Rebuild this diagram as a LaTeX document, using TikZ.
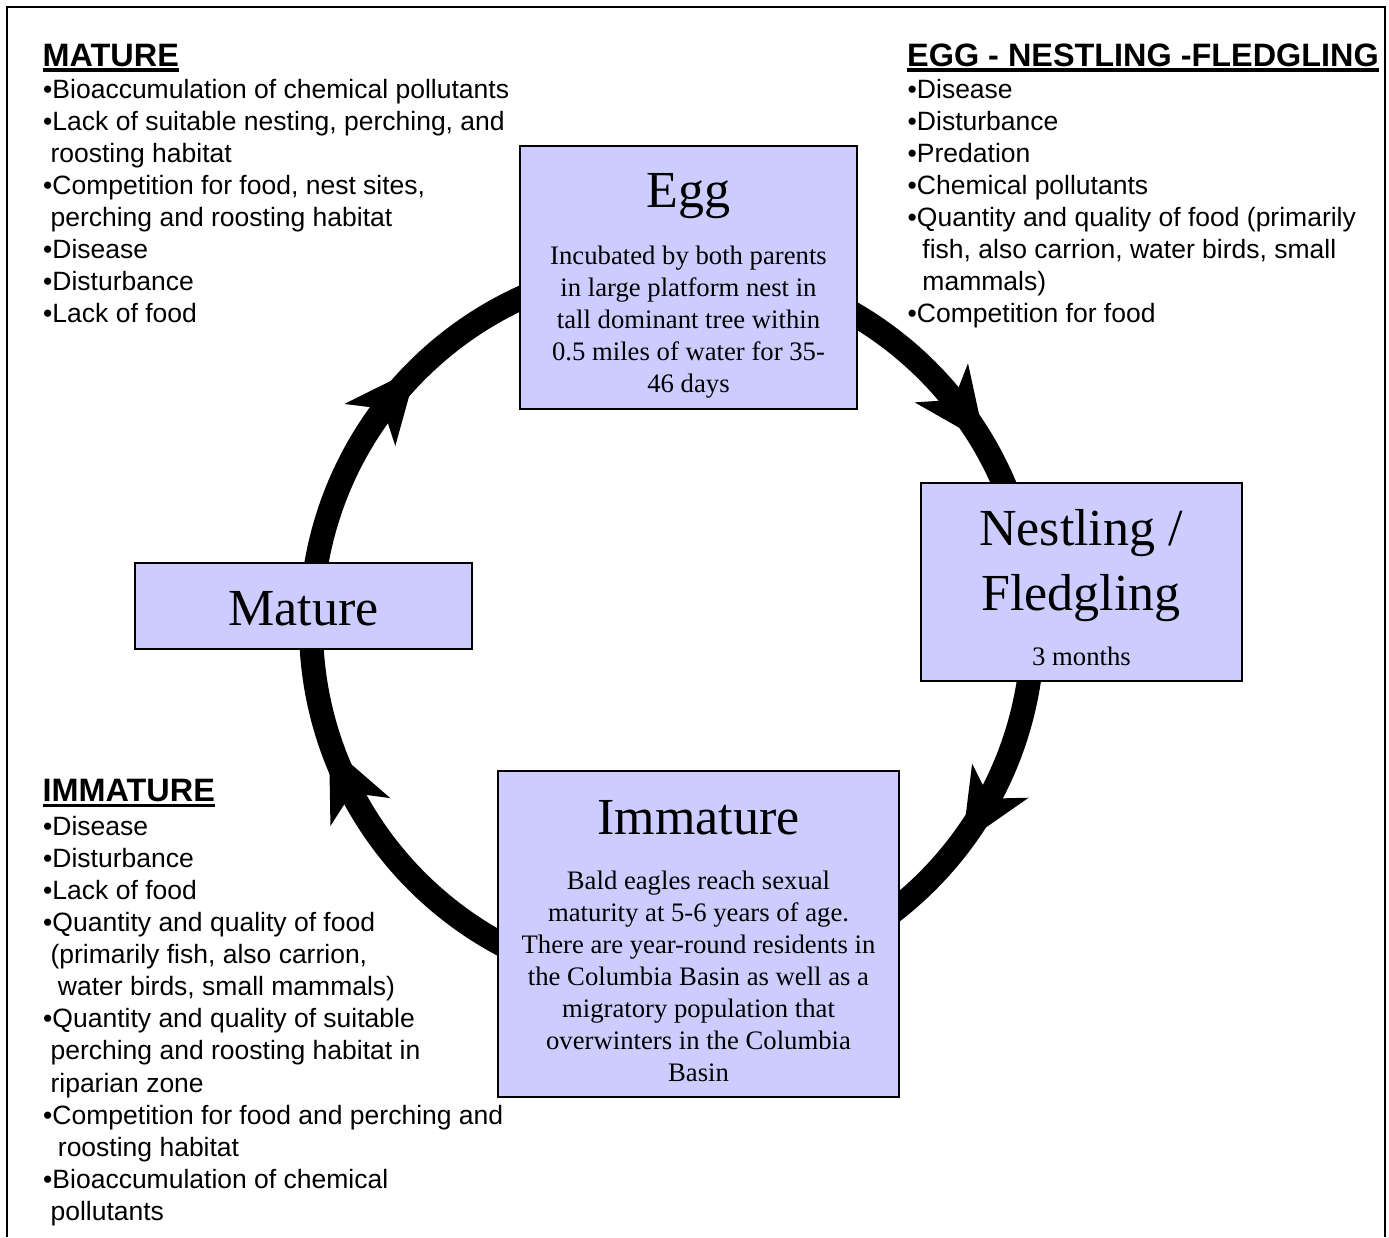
\documentclass[tikz,border=0pt]{standalone}
\usepackage{fontspec}
\setmainfont{Liberation Sans}
\newfontfamily\serifb{Liberation Serif}
\usetikzlibrary{decorations.markings}
\definecolor{boxfill}{HTML}{CCCCFF}
\newcommand{\myind}{\hspace*{0.278em}}
\newcommand{\myindd}{\hspace*{0.556em}}
\tikzset{
  box/.style={draw=black, line width=2.5pt, fill=boxfill, inner sep=0pt},
  ttl/.style={font={\serifb\fontsize{52}{65}\selectfont}, inner sep=0pt, anchor=base},
  body/.style={font={\serifb\fontsize{26.7}{32}\selectfont}, align=center, inner sep=0pt, anchor=north},
  head/.style={font={\bfseries\fontsize{32.4}{38}\selectfont}, inner sep=0pt, anchor=base west},
  list/.style={font={\fontsize{26.5}{32.08}\selectfont}, align=left, inner sep=0pt, anchor=north west},
  ring/.style={line width=24pt},
  uline/.style={line width=3.3pt},
  frame/.style={line width=2.5pt},
  barb/.style={fill=black}
}
\begin{document}
\begin{tikzpicture}[x=1pt,y=1pt]
\useasboundingbox (0,0) rectangle (1389,-1237);
% outer frame
\coordinate (fbl) at (7,-1237);
\coordinate (ftl) at (7,-7);
\coordinate (ftr) at (1385,-7);
\coordinate (fbr) at (1385,-1237);
\draw[frame] (fbl) -- (ftl) -- (ftr) -- (fbr);

% cycle ring
\coordinate (cyc) at (672,-626);
\draw[ring, postaction={decorate}, decoration={markings,
  mark=at position 0.0863 with {\fill[barb] (37,0) -- (-37,33) -- (-16,0) -- (-37,-33) -- cycle;},
  mark=at position 0.4306 with {\fill[barb] (37,0) -- (-37,33) -- (-16,0) -- (-37,-33) -- cycle;},
  mark=at position 0.6097 with {\fill[barb] (37,0) -- (-37,33) -- (-16,0) -- (-37,-33) -- cycle;},
  mark=at position 0.8994 with {\fill[barb] (37,0) -- (-37,33) -- (-16,0) -- (-37,-33) -- cycle;}}]
  (cyc) ++(0:361) arc[start angle=0, end angle=-360, radius=361];

% boxes
\node[box, minimum width=337pt, minimum height=263pt] (egg) at (688.5,-277.5) {};
\node[box, minimum width=321pt, minimum height=198pt] (nest) at (1081.5,-582) {};
\node[box, minimum width=401pt, minimum height=326pt] (imm) at (698.5,-934) {};
\node[box, minimum width=337pt, minimum height=86pt] (mat) at (303.5,-606) {};

% box texts
\node[ttl] (eggt) at (688.5,-207.5) {Egg};
\node[body] (eggb) at (688.5,-245.7) {Incubated by both parents\\in large platform nest in\\tall dominant tree within\\0.5 miles of water for 35-\\46 days};
\node[ttl] (nestt1) at (1081,-545) {Nestling /};
\node[ttl] (nestt2) at (1081,-610) {Fledgling};
\node[body, anchor=base] (nestb) at (1081.5,-665) {3 months};
\node[ttl] (immt) at (698.5,-834) {Immature};
\node[body] (immb) at (698.5,-870.5) {Bald eagles reach sexual\\maturity at 5-6 years of age.\\There are year-round residents in\\the Columbia Basin as well as a\\migratory population that\\overwinters in the Columbia\\Basin};
\node[ttl] (matt) at (303.5,-625) {Mature};

% headings
\node[head] (hm) at (42.5,-66) {MATURE};
\draw[uline] ([yshift=-4pt]hm.base west) -- ([yshift=-4pt]hm.base east);
\node[head] (he) at (907,-66) {EGG - NESTLING -FLEDGLING};
\draw[uline] ([yshift=-4pt]he.base west) -- ([yshift=-4pt]he.base east);
\node[head] (hi) at (42.5,-801.7) {IMMATURE};
\draw[uline] ([yshift=-4pt]hi.base west) -- ([yshift=-4pt]hi.base east);

% lists
\node[list] (lm) at (43,-79) {•Bioaccumulation of chemical pollutants\\•Lack of suitable nesting, perching, and\\\myind roosting habitat\\•Competition for food, nest sites,\\\myind perching and roosting habitat\\•Disease\\•Disturbance\\•Lack of food};
\node[list] (le) at (907.5,-79) {•Disease\\•Disturbance\\•Predation\\•Chemical pollutants\\•Quantity and quality of food (primarily\\\myindd fish, also carrion, water birds, small\\\myindd mammals)\\•Competition for food};
\node[list] (li) at (43,-816) {•Disease\\•Disturbance\\•Lack of food\\•Quantity and quality of food\\\myind (primarily fish, also carrion,\\\myindd water birds, small mammals)\\•Quantity and quality of suitable\\\myind perching and roosting habitat in\\\myind riparian zone\\•Competition for food and perching and\\\myindd roosting habitat\\•Bioaccumulation of chemical\\\myind pollutants};
\end{tikzpicture}
\end{document}
